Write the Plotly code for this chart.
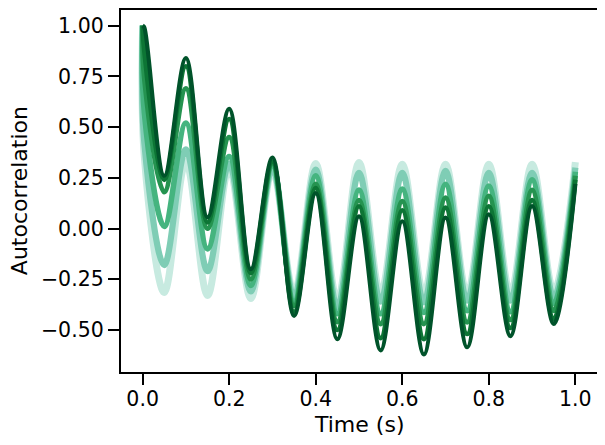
import plotly.graph_objects as go

# Lags (s): 0, just after 0, then every extremum (every 0.05 s) up to 1.0
lags = [0.0, 0.004, 0.05, 0.10, 0.15, 0.20, 0.25, 0.30, 0.35, 0.40, 0.45,
        0.50, 0.55, 0.60, 0.65, 0.70, 0.75, 0.80, 0.85, 0.90, 0.95, 1.00]

# Autocorrelation, lightest -> darkest curve
acf_1 = [1.0, 0.35, -0.315, 0.33, -0.33, 0.30, -0.345, 0.29, -0.32, 0.32, -0.355,
         0.325, -0.32, 0.317, -0.323, 0.317, -0.323, 0.317, -0.32, 0.317, -0.31, 0.327]
acf_2 = [1.0, 0.42, -0.18, 0.39, -0.21, 0.32, -0.31, 0.30, -0.34, 0.29, -0.39,
         0.275, -0.36, 0.275, -0.364, 0.284, -0.355, 0.275, -0.355, 0.275, -0.34, 0.30]
acf_3 = [1.0, 0.57, 0.01, 0.52, -0.10, 0.355, -0.28, 0.31, -0.36, 0.26, -0.42,
         0.19, -0.42, 0.194, -0.413, 0.218, -0.405, 0.21, -0.41, 0.24, -0.37, 0.28]
acf_4 = [1.0, 0.74, 0.18, 0.69, 0.0, 0.45, -0.25, 0.32, -0.38, 0.22, -0.46,
         0.14, -0.47, 0.135, -0.47, 0.152, -0.462, 0.16, -0.45, 0.19, -0.405, 0.26]
acf_5 = [1.0, 0.87, 0.24, 0.80, 0.03, 0.54, -0.22, 0.33, -0.41, 0.20, -0.50,
         0.11, -0.54, 0.09, -0.545, 0.103, -0.52, 0.11, -0.49, 0.14, -0.445, 0.24]
acf_6 = [1.0, 0.99, 0.26, 0.84, 0.055, 0.59, -0.20, 0.35, -0.43, 0.175, -0.545,
         0.06, -0.60, 0.036, -0.62, 0.054, -0.585, 0.07, -0.53, 0.11, -0.47, 0.22]

series = [acf_1, acf_2, acf_3, acf_4, acf_5, acf_6]
colors = ["#c7eae0", "#7fcdb5", "#45b47f", "#259350", "#0d7535", "#00532a"]
widths = [7, 6.2, 5.6, 5, 4.6, 4.2]

x_ticks = [0.0, 0.2, 0.4, 0.6, 0.8, 1.0]
y_ticks = [-0.5, -0.25, 0.0, 0.25, 0.5, 0.75, 1.0]

fig = go.Figure()
for vals, c, w in zip(series, colors, widths):
    fig.add_trace(go.Scatter(x=lags, y=vals, mode="lines",
                             line=dict(color=c, width=w, shape="spline", smoothing=1.0),
                             showlegend=False, hoverinfo="skip"))

font = "DejaVu Sans, Arial, sans-serif"
axis_common = dict(showline=True, mirror=True, linecolor="black", linewidth=2.3,
                   ticks="outside", ticklen=11, tickwidth=2.3, tickcolor="black",
                   showgrid=False, zeroline=False, automargin=False,
                   tickfont=dict(family=font, size=20.5, color="black"))

fig.update_xaxes(range=[-0.05, 1.05], tickvals=x_ticks, tickformat=".1f",
                 ticklabelstandoff=-4, **axis_common)
fig.update_yaxes(range=[-0.707, 1.077], tickvals=y_ticks, tickformat=".2f", **axis_common)

# page body has an 8px default margin, so the figure is 8px smaller each way
fig.update_layout(
    width=597, height=437,
    margin=dict(l=113, r=8, t=2, b=73),
    plot_bgcolor="white", paper_bgcolor="white",
    annotations=[
        dict(text="Time (s)", xref="paper", yref="paper", x=0.5, y=-0.145,
             xanchor="center", yanchor="middle", showarrow=False,
             font=dict(family=font, size=22, color="black")),
        dict(text="Autocorrelation", xref="paper", yref="paper", x=-0.214, y=0.5,
             xanchor="center", yanchor="middle", showarrow=False, textangle=-90,
             font=dict(family=font, size=22, color="black")),
    ],
)

fig.write_html("out.html")
